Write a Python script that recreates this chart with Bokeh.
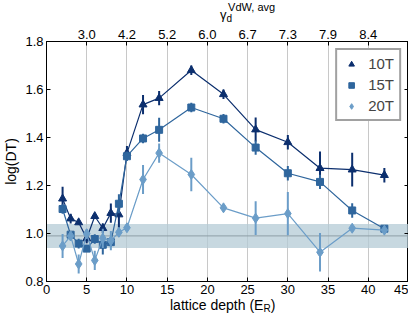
from bokeh.plotting import figure
from bokeh.models import (LinearAxis, FixedTicker, BoxAnnotation, Span, Div,
                          ColumnDataSource, Legend, LegendItem, Range1d)
from bokeh.layouts import column
from bokeh.embed import file_html
from bokeh.resources import INLINE

depth = [2, 3, 4, 5, 6, 7, 8, 9, 10, 12, 14, 18, 22, 26, 30, 34, 38, 42]
dt10 = [1.145, 1.062, 1.046, 0.979, 1.072, 1.022, 1.085, 1.079, 1.335, 1.537, 1.564, 1.680, 1.580, 1.433, 1.380, 1.272, 1.266, 1.243]
err10 = [0.05, 0.02, 0.01, 0.02, 0.01, 0.02, 0.04, 0.06, 0.03, 0.04, 0.03, 0.02, 0.02, 0.05, 0.03, 0.07, 0.07, 0.03]
dt15 = [1.102, 0.995, 0.958, 0.937, 0.977, 0.953, 0.964, 1.124, 1.322, 1.396, 1.432, 1.525, 1.478, 1.358, 1.251, 1.215, 1.096, 1.020]
err15 = [0.02, 0.01, 0.02, 0.01, 0.02, 0.04, 0.02, 0.04, 0.02, 0.02, 0.05, 0.02, 0.02, 0.03, 0.03, 0.03, 0.03, 0.01]
dt20 = [0.948, 0.990, 0.873, 0.999, 0.888, 0.980, 0.970, 1.005, 1.024, 1.225, 1.335, 1.246, 1.107, 1.064, 1.083, 0.922, 1.022, 1.014]
err20 = [0.05, 0.02, 0.04, 0.02, 0.04, 0.04, 0.04, 0.02, 0.01, 0.06, 0.04, 0.07, 0.01, 0.07, 0.09, 0.08, 0.01, 0.01]

x_ticks = [0, 5, 10, 15, 20, 25, 30, 35, 40, 45]
top_ticks = [5, 10, 15, 20, 25, 30, 35, 40]
top_labels = ["3.0", "4.2", "5.2", "6.0", "6.7", "7.3", "7.9", "8.4"]
y_ticks = [0.8, 1.0, 1.2, 1.4, 1.6, 1.8]
band_low, band_high, band_mid = 0.94, 1.04, 0.99

FONT = "Liberation Sans"
W = 408

p = figure(width=W, height=275, output_backend="svg", toolbar_location=None,
           x_range=Range1d(0, 45), y_range=Range1d(0.8, 1.8),
           min_border_left=37, min_border_right=0, min_border_top=19, min_border_bottom=16)
p.outline_line_color = "black"
p.outline_line_width = 1

for ax in [p.xaxis[0], p.yaxis[0]]:
    ax.major_tick_in = 4
    ax.major_tick_out = 0
    ax.minor_tick_line_color = None
    ax.major_label_text_font = FONT
    ax.major_label_text_font_size = "13px"
    ax.major_label_text_color = "black"
    ax.axis_line_color = "black"
    ax.major_label_standoff = 3
p.xaxis.ticker = FixedTicker(ticks=x_ticks)
p.yaxis.ticker = FixedTicker(ticks=y_ticks)
p.yaxis.major_label_overrides = {t: f"{t:.1f}" for t in y_ticks}
p.yaxis.axis_label = "log(DT)"
p.yaxis.axis_label_text_font = FONT
p.yaxis.axis_label_text_font_style = "normal"
p.yaxis.axis_label_text_font_size = "14px"
p.yaxis.axis_label_text_color = "black"
p.yaxis.axis_label_standoff = 3

top = LinearAxis(ticker=FixedTicker(ticks=top_ticks),
                 major_label_overrides={t: l for t, l in zip(top_ticks, top_labels)})
top.major_tick_in = 4
top.major_tick_out = 0
top.minor_tick_line_color = None
top.major_label_text_font = FONT
top.major_label_text_font_size = "13px"
top.major_label_text_color = "black"
top.major_label_standoff = 3
p.add_layout(top, "above")

right = LinearAxis(ticker=FixedTicker(ticks=y_ticks),
                   major_label_overrides={t: "" for t in y_ticks})
right.major_tick_in = 4
right.major_tick_out = 0
right.minor_tick_in = 0
right.minor_tick_out = 0
right.minor_tick_line_color = None
right.major_label_text_font_size = "0px"
right.major_label_standoff = 0
right.axis_label_standoff = 0
p.add_layout(right, "right")

p.xgrid.ticker = FixedTicker(ticks=top_ticks)
p.xgrid.grid_line_color = "#c8c8c8"
p.xgrid.grid_line_width = 1
p.ygrid.grid_line_color = None

p.add_layout(BoxAnnotation(bottom=band_low, top=band_high, fill_color="#b4cbd6",
                           fill_alpha=0.75, line_color=None, level="underlay"))
p.add_layout(Span(location=band_mid, dimension="width", line_color="#8e9ea6",
                  line_width=1, level="underlay"))

series = [
    ("10T", dt10, err10, "#0c2f6e", "triangle", 8),
    ("15T", dt15, err15, "#2f669d", "square", 7),
    ("20T", dt20, err20, "#6b9dc8", "diamond", 10),
]
items = []
for name, ys, es, col, mk, sz in series:
    src = ColumnDataSource(dict(x=depth, y=ys,
                                lo=[y - e for y, e in zip(ys, es)],
                                hi=[y + e for y, e in zip(ys, es)]))
    p.line("x", "y", source=src, line_color=col, line_width=1.2)
    p.segment(x0="x", y0="lo", x1="x", y1="hi", source=src, line_color=col, line_width=2)
    sc = p.scatter("x", "y", source=src, marker=mk, size=sz, fill_color=col,
                   line_color=col, line_width=1)
    bar = p.vspan(x=[], line_color=col, line_width=2)
    items.append(LegendItem(label=name, renderers=[bar, sc]))

leg = Legend(items=items, location="top_right", border_line_color="#444444",
             border_line_width=2, label_text_font=FONT, label_text_font_size="15px",
             glyph_width=18, glyph_height=14, spacing=4, padding=5,
             margin=7, label_standoff=8, background_fill_alpha=1)
p.add_layout(leg, "center")

top_html = (
    f'<div style="position:relative;width:{W}px;height:22px;overflow:visible;font-family:\'{FONT}\';color:black;">'
    '<span style="position:absolute;left:220px;top:7px;font-size:13px;line-height:normal;white-space:nowrap;">'
    'γ<span style="font-size:10px;position:relative;top:3px;">d</span>'
    '<span style="font-size:11px;position:relative;top:-8px;margin-left:-4px;">VdW, avg</span>'
    '</span></div>'
)
bottom_html = (
    f'<div style="position:relative;width:{W}px;height:20px;font-family:\'{FONT}\';color:black;">'
    '<span style="position:absolute;left:170px;top:0px;font-size:14px;line-height:normal;white-space:nowrap;">'
    'lattice depth (E<span style="font-size:10px;position:relative;top:2px;">R</span>)'
    '</span></div>'
)
top_div = Div(text=top_html, width=W, height=22, margin=0, styles={"overflow": "visible"})
bottom_div = Div(text=bottom_html, width=W, height=20, margin=0)

layout = column(top_div, p, bottom_div, spacing=0)
open("out.html", "w").write(file_html(layout, INLINE))
